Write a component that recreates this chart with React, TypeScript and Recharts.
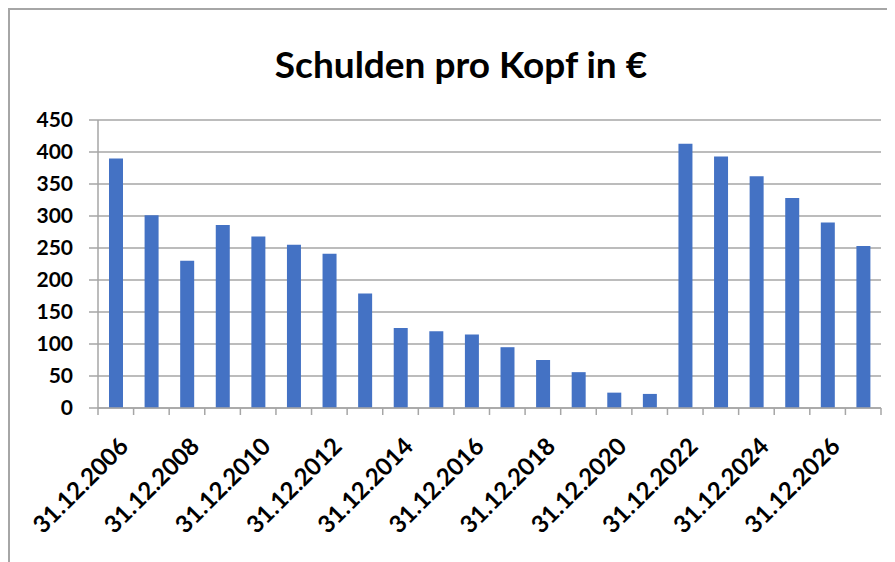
import { BarChart, Bar, XAxis, YAxis, CartesianGrid } from 'recharts'

const years = [
  '31.12.2006', '31.12.2007', '31.12.2008', '31.12.2009', '31.12.2010', '31.12.2011',
  '31.12.2012', '31.12.2013', '31.12.2014', '31.12.2015', '31.12.2016', '31.12.2017',
  '31.12.2018', '31.12.2019', '31.12.2020', '31.12.2021', '31.12.2022', '31.12.2023',
  '31.12.2024', '31.12.2025', '31.12.2026', '31.12.2027',
]
const schuldenProKopf = [
  390, 301, 230, 286, 268, 255, 241, 179, 125, 120, 115,
  95, 75, 56, 24, 22, 413, 393, 362, 328, 290, 253,
]
const yTicks = [0, 50, 100, 150, 200, 250, 300, 350, 400, 450]

const data = years.map((d, i) => ({ datum: d, wert: schuldenProKopf[i] }))

const FONT = 'Lato, "Open Sans", sans-serif'
const GRID = '#a6a6a6'

// Tick am Kategorie-Rand, Beschriftung nur jede zweite Kategorie
function DateTick(props: any) {
  const { x, y, payload, index } = props
  const off = payload.offset ?? 0
  const last = index === years.length - 1
  const tx = x + 14
  const ty = y + 40
  return (
    <g>
      <line x1={x - off} y1={y} x2={x - off} y2={y + 7} stroke={GRID} strokeWidth={1.5} />
      {last && <line x1={x + off} y1={y} x2={x + off} y2={y + 7} stroke={GRID} strokeWidth={1.5} />}
      {index % 2 === 0 && (
        <text
          x={tx}
          y={ty}
          textAnchor="end"
          transform={`rotate(-45, ${tx}, ${ty})`}
          fontFamily={FONT}
          fontWeight="bold"
          fontSize={24}
          fill="#000"
        >
          {payload.value}
        </text>
      )}
    </g>
  )
}

export default function App() {
  return (
    <div
      style={{
        position: 'relative',
        width: 885,
        height: 552,
        borderTop: `2px solid ${GRID}`,
        borderLeft: `2px solid ${GRID}`,
      }}
    >
      <div
        style={{
          position: 'absolute',
          left: 0,
          width: 902,
          top: 31,
          textAlign: 'center',
          fontFamily: FONT,
          fontWeight: 'bold',
          fontSize: 37,
          color: '#000',
        }}
      >
        Schulden pro Kopf in €
      </div>
      <BarChart
        width={885}
        height={552}
        data={data}
        margin={{ top: 110, right: 14, left: 0, bottom: 0 }}
      >
        <CartesianGrid vertical={false} stroke={GRID} strokeWidth={1.5} />
        <XAxis
          dataKey="datum"
          interval={0}
          height={154}
          tickSize={0}
          tickMargin={0}
          tickLine={false}
          axisLine={{ stroke: GRID, strokeWidth: 1.5 }}
          tick={<DateTick />}
        />
        <YAxis
          width={88}
          domain={[0, 450]}
          ticks={yTicks}
          interval={0}
          tickSize={9}
          tickMargin={16}
          axisLine={{ stroke: GRID, strokeWidth: 1.5 }}
          tickLine={{ stroke: GRID, strokeWidth: 1.5 }}
          tick={{ fontFamily: FONT, fontWeight: 'bold', fontSize: 21, fill: '#000' }}
        />
        <Bar dataKey="wert" fill="#4472C4" barSize={14} isAnimationActive={false} />
      </BarChart>
    </div>
  )
}
